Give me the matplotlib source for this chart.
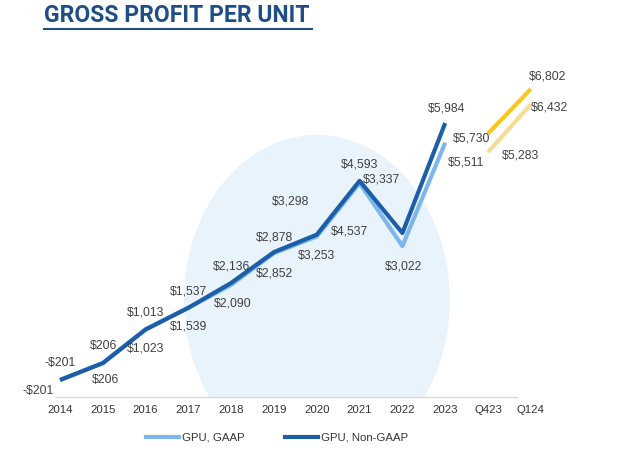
import numpy as np
import matplotlib
matplotlib.use('Agg')
import matplotlib.pyplot as plt
from matplotlib.patches import Ellipse
from matplotlib.lines import Line2D

categories = ['2014', '2015', '2016', '2017', '2018', '2019', '2020',
              '2021', '2022', '2023', 'Q423', 'Q124']

# yearly history (blue lines)
non_gaap = [-201, 206, 1013, 1537, 2136, 2878, 3298, 4593, 3337, 5984]
gaap = [-201, 206, 1023, 1539, 2090, 2852, 3253, 4537, 3022, 5511]
# quarterly (yellow lines)
non_gaap_q = [5730, 6802]
gaap_q = [5283, 6432]

# label offsets in pixels (dx, dy; dy positive = up)
NG_OFFS = [(0, 17), (1, 17), (0, 17), (0, 16), (0, 16), (0, 15), (-26, 33),
           (0, 16), (-21, 54), (1, 15), (-16, -5), (17, 13)]
G_OFFS = [(-22, -11), (3, -17), (0, -19), (0, -19), (1, -19), (0, -20), (0, -19),
          (-10, -48), (1, -20), (21, -20), (33, -3), (19, -3)]

DARK = '#1c5ea8'
LIGHT = '#7db6ea'
YEL = '#f9c81e'
PALE = '#f6dc94'
TXT = '#404040'

plt.rcParams['font.family'] = ['Liberation Sans', 'DejaVu Sans']

fig = plt.figure(figsize=(6.2, 4.54), dpi=100)
ax = fig.add_axes([38.6 / 620, 1 - 397 / 454, 513.6 / 620, 337 / 454])
ax.set_xlim(-0.5, 11.5)
ax.set_ylim(-610, 7501)
for s in ax.spines.values():
    s.set_visible(False)
ax.set_yticks([])

x = np.arange(len(categories))
xh = x[:len(non_gaap)]
xq = x[len(non_gaap):]

ax.add_patch(Ellipse((6.0, 1725), 6.21, 7943, facecolor='#e8f3fc', edgecolor='none', zorder=0))
ax.hlines(-610, -0.12, 10.7, color='#d9d9d9', lw=1, clip_on=False, zorder=1)

ax.plot(xh, gaap, color=LIGHT, lw=3, solid_capstyle='butt', zorder=2, label='GPU, GAAP')
ax.plot(xh, non_gaap, color=DARK, lw=3, solid_capstyle='butt', zorder=3, label='GPU, Non-GAAP')
ax.plot(xq, gaap_q, color=PALE, lw=3, solid_capstyle='butt', zorder=2, clip_on=False)
ax.plot(xq, non_gaap_q, color=YEL, lw=3, solid_capstyle='butt', zorder=3, clip_on=False)

ng_all = non_gaap + non_gaap_q
g_all = gaap + gaap_q


def fmt(v):
    return ('-$%s' % format(-v, ',')) if v < 0 else ('$%s' % format(v, ','))


for i in range(len(categories)):
    for vals, offs in ((ng_all, NG_OFFS), (g_all, G_OFFS)):
        dx, dy = offs[i]
        ax.annotate(fmt(vals[i]), (x[i], vals[i]), xytext=(dx * 0.72, dy * 0.72),
                    textcoords='offset points', ha='center', va='center',
                    fontsize=8.8, color=TXT, annotation_clip=False, zorder=5)

ax.set_xticks(x)
ax.set_xticklabels(categories, fontsize=8.2, color='#333333')
ax.tick_params(axis='x', length=0, pad=6)

handles = [Line2D([], [], color=LIGHT, lw=3), Line2D([], [], color=DARK, lw=3)]
fig.legend(handles, ['GPU, GAAP', 'GPU, Non-GAAP'], loc='center',
           bbox_to_anchor=(277 / 620, 1 - 438 / 454), ncol=2, frameon=False,
           fontsize=8.2, handlelength=2.9, handletextpad=0.2, columnspacing=3.6,
           labelcolor='#333333')

fig.text(44 / 620, 1 - 16 / 454, 'GROSS PROFIT PER UNIT', ha='left', va='center',
         fontsize=16.6, fontweight='bold', color='#1f4e86', family='Roboto')
fig.add_artist(Line2D([44 / 620, 312 / 620], [1 - 29 / 454, 1 - 29 / 454],
                      color='#1f4e86', lw=1.5, transform=fig.transFigure))

fig.savefig('out.png', dpi=100)
